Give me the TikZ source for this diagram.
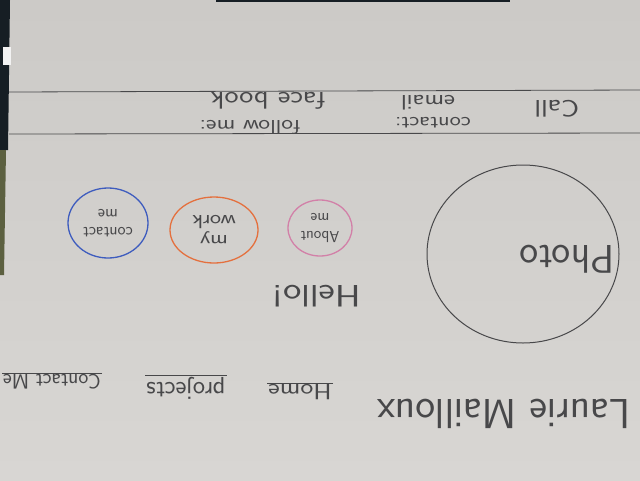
\documentclass[tikz,border=0pt]{standalone}
\usetikzlibrary{shapes.geometric}

\definecolor{paper}{RGB}{204,202,199}
\definecolor{paperlow}{RGB}{216,214,211}
\definecolor{pencil}{RGB}{72,72,74}
\definecolor{edgedark}{RGB}{22,30,36}
\definecolor{edgeolive}{RGB}{92,96,64}
\definecolor{bluepen}{RGB}{62,92,190}
\definecolor{orangepen}{RGB}{228,112,62}
\definecolor{pinkpen}{RGB}{210,128,168}

\begin{document}
\begin{tikzpicture}[x=1pt, y=-1pt,
    ink/.style = {font=\sffamily, text=pencil, rotate=180, inner sep=1pt, align=center},
    wide/.style = {xscale=1.25},
    bubble/.style = {draw, ellipse, line width=1.3pt, inner sep=0pt},
    rule/.style = {draw=pencil, line width=0.8pt}]
    % sheet
    \shade[top color=paper, bottom color=paperlow] (0,0) rectangle (640,480);
    \fill[edgedark] (0,0) -- (10,0) -- (8,150) -- (0,150) -- cycle;
    \fill[edgeolive] (0,150) -- (6,150) -- (4,275) -- (0,275) -- cycle;
    \fill[edgedark] (216,0) rectangle (510,2);
    \fill[white!90!gray] (3,47) rectangle (11,65);
    \useasboundingbox (0,0) rectangle (640,480);

    % footer band
    \coordinate (r1w) at (9,92);
    \coordinate (r1e) at (640,90);
    \coordinate (r2w) at (9,134);
    \coordinate (r2e) at (640,133);
    \draw[rule] (r1w) -- (r1e);
    \draw[rule] (r2w) -- (r2e);

    \node[ink, wide, font=\sffamily\fontsize{24}{24}\selectfont] (call) at (557,109) {Call};
    \node[ink, wide, font=\sffamily\fontsize{19}{19}\selectfont] (contact) at (433,123) {contact:};
    \node[ink, wide, font=\sffamily\fontsize{21}{21}\selectfont] (email) at (428,103) {email};
    \node[ink, wide, font=\sffamily\fontsize{20}{20}\selectfont] (follow) at (250,127) {follow me:};
    \node[ink, wide, font=\sffamily\fontsize{24}{24}\selectfont] (facebook) at (268,101) {face book};

    % photo
    \draw[pencil, line width=1pt] (523,254) ellipse [x radius=96, y radius=89];
    \node[ink, font=\sffamily\fontsize{40}{40}\selectfont] (photo) at (567,259) {Photo};

    % circles
    \node[bubble, draw=pinkpen, minimum width=64pt, minimum height=56pt] (about) at (320,228) {};
    \node[ink, font=\sffamily\fontsize{16}{18}\selectfont] at (about) {About\\me};
    \node[bubble, draw=orangepen, minimum width=88pt, minimum height=66pt] (work) at (214,230) {};
    \node[ink, wide, font=\sffamily\fontsize{19}{20}\selectfont] at (work) {my\\work};
    \node[bubble, draw=bluepen, minimum width=80pt, minimum height=70pt] (contactme) at (108,223) {};
    \node[ink, font=\sffamily\fontsize{17}{18}\selectfont] at (contactme) {contact\\me};

    \node[ink, wide, font=\sffamily\fontsize{31}{31}\selectfont] (hello) at (316,296) {Hello!};

    % header
    \node[ink, font=\sffamily\fontsize{42}{42}\selectfont] (name) at (504,414) {Laurie Mailloux};
    \node[ink, wide, font=\sffamily\fontsize{22}{22}\selectfont] (home) at (300,392) {Home};
    \node[ink, font=\sffamily\fontsize{26}{26}\selectfont] (projects) at (186,388) {projects};
    \node[ink, font=\sffamily\fontsize{21}{21}\selectfont] (contactnav) at (52,382) {Contact Me};

    \draw[rule] (home.south west) -- (home.south east);
    \draw[rule] (projects.south west) -- (projects.south east);
    \draw[rule] (contactnav.south west) -- (contactnav.south east);

\end{tikzpicture}
\end{document}
